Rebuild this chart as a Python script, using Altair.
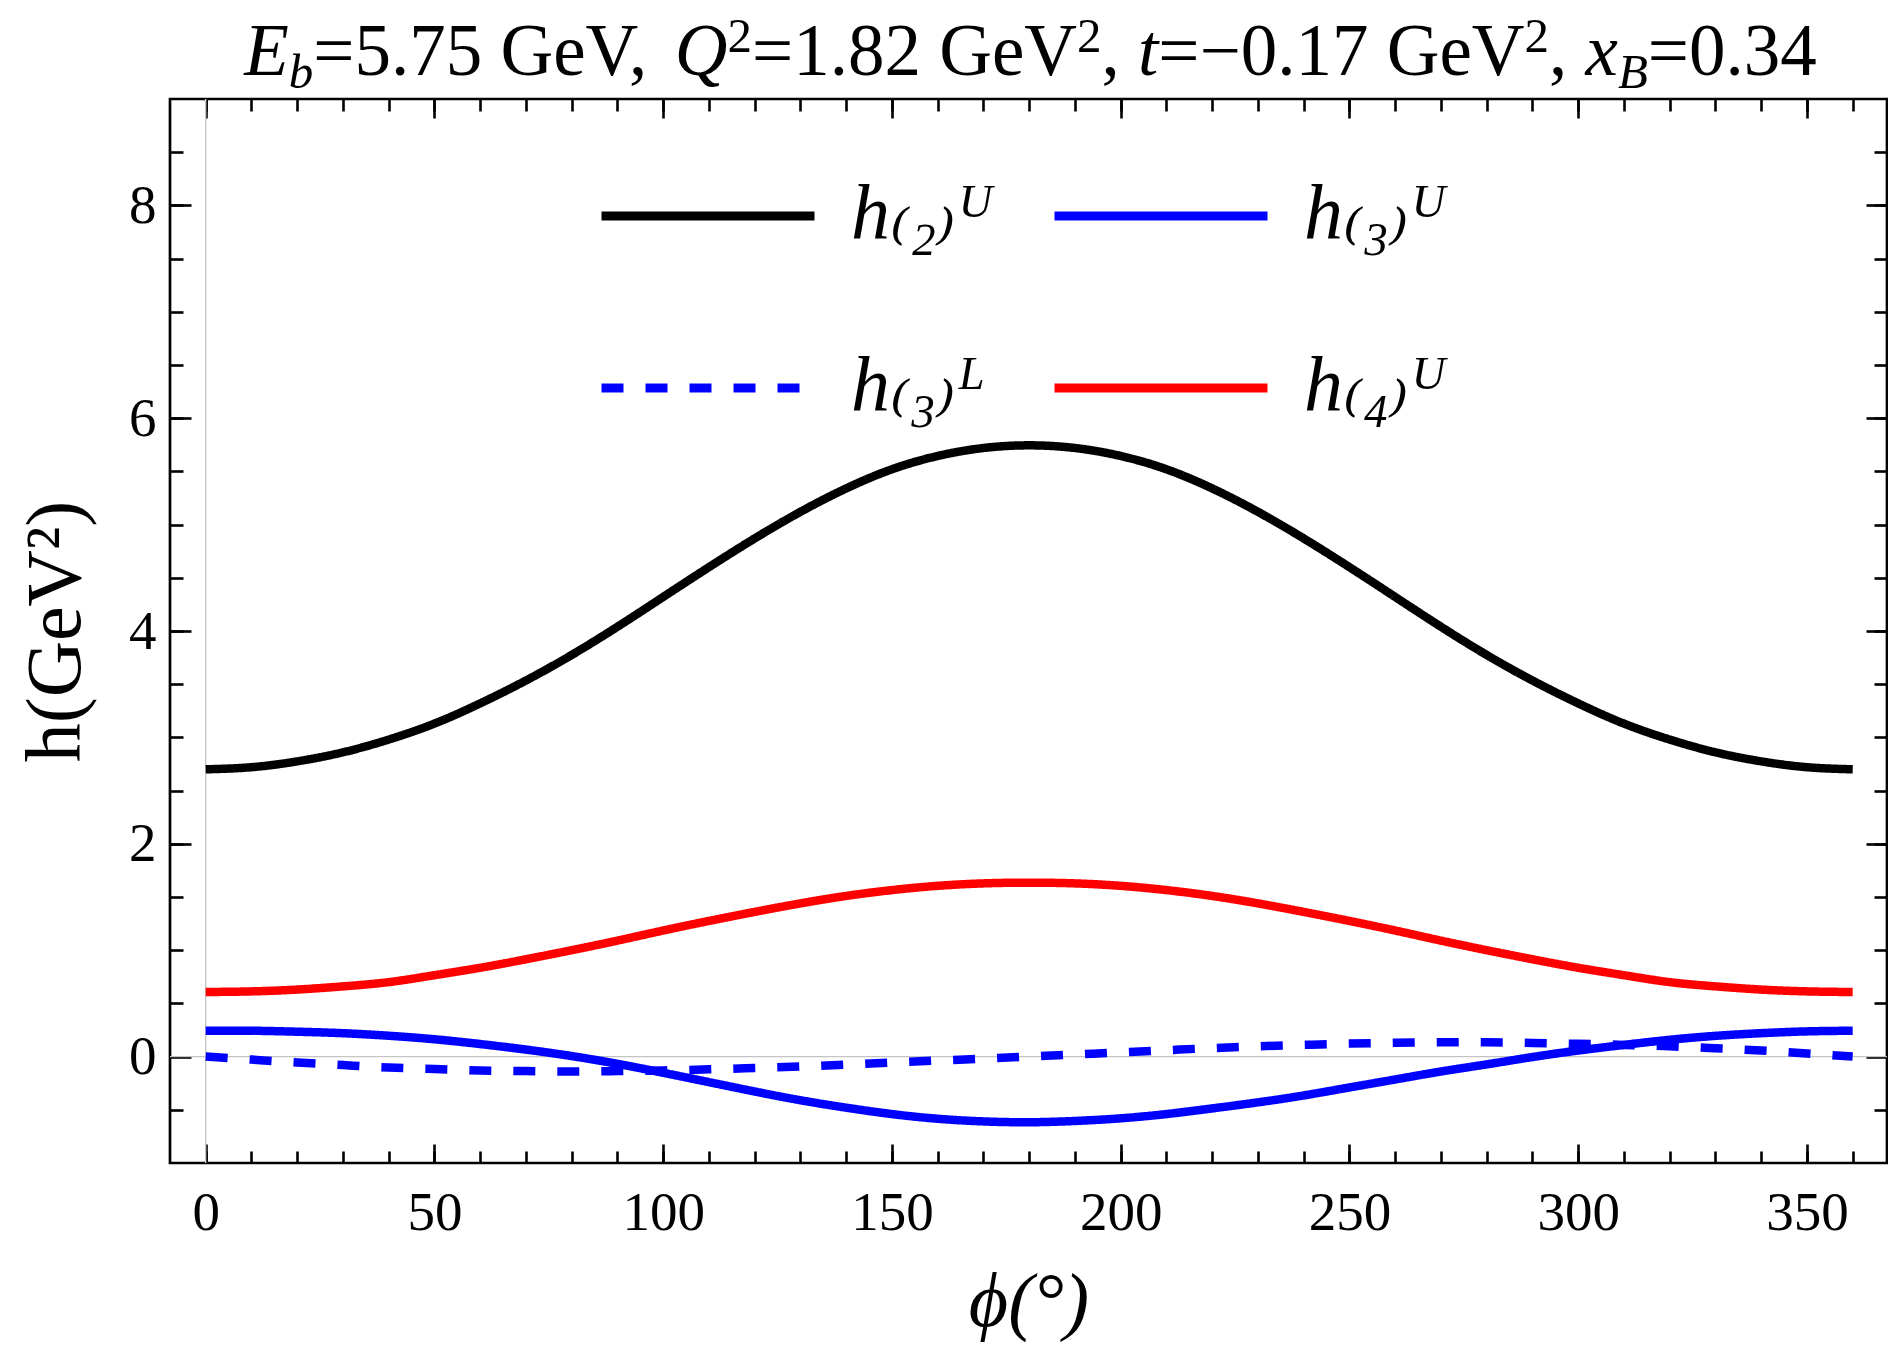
import altair as alt
import pandas as pd

# ---------------- data ----------------
phi = list(range(0, 361, 10))

h2U = [2.70, 2.72, 2.775, 2.86, 2.98, 3.13, 3.32, 3.535, 3.775, 4.04, 4.32, 4.60, 4.87, 5.12, 5.34, 5.52, 5.645, 5.72, 5.745,
       5.72, 5.645, 5.52, 5.34, 5.12, 4.87, 4.60, 4.32, 4.04, 3.775, 3.535, 3.32, 3.13, 2.98, 2.86, 2.775, 2.72, 2.70]
h3U = [0.243, 0.243, 0.234, 0.220, 0.196, 0.163, 0.118, 0.066, 0.005, -0.068, -0.152, -0.240, -0.328, -0.410, -0.480, -0.540, -0.584, -0.609, -0.617,
       -0.605, -0.580, -0.540, -0.487, -0.430, -0.365, -0.290, -0.215, -0.140, -0.073, -0.004, 0.057, 0.110, 0.158, 0.195, 0.220, 0.237, 0.243]
h3L = [0.0, -0.028, -0.056, -0.080, -0.103, -0.117, -0.130, -0.136, -0.140, -0.136, -0.130, -0.120, -0.107, -0.093, -0.075, -0.056, -0.037, -0.019, 0.0,
       0.020, 0.040, 0.060, 0.080, 0.097, 0.110, 0.122, 0.130, 0.134, 0.134, 0.128, 0.120, 0.110, 0.097, 0.078, 0.057, 0.030, 0.0]
h4U = [0.607, 0.613, 0.63, 0.66, 0.70, 0.765, 0.835, 0.915, 1.00, 1.09, 1.185, 1.275, 1.36, 1.44, 1.51, 1.565, 1.605, 1.628, 1.635,
       1.628, 1.605, 1.565, 1.51, 1.44, 1.36, 1.275, 1.185, 1.09, 1.00, 0.915, 0.835, 0.765, 0.70, 0.66, 0.63, 0.613, 0.607]

series_names = ["h\u208d\u2082\u208e\u1d41", "h\u208d\u2083\u208e\u1d41", "h\u208d\u2083\u208e\u1d38", "h\u208d\u2084\u208e\u1d41"]
series_colors = ["#000000", "#0000ff", "#0000ff", "#ff0000"]
series_dash = [[1, 0], [1, 0], [22, 22], [1, 0]]
# legend fills column by column: first column h(2)U, h(3)L; second column h(3)U, h(4)U
legend_order = [series_names[0], series_names[2], series_names[1], series_names[3]]

x_major = [0, 50, 100, 150, 200, 250, 300, 350]
x_minor = list(range(0, 361, 10))
y_major = [0, 2, 4, 6, 8]
y_minor = [-0.5, 0.5, 1, 1.5, 2, 2.5, 3, 3.5, 4, 4.5, 5, 5.5, 6, 6.5, 7, 7.5, 8, 8.5]

x_title = "\u03d5(\u00b0)"
y_title = "h(GeV\u00b2)"

title_parts = ["E", "b", "=5.75 GeV, ", "Q", "2", "=1.82 GeV", "2", ", ", "t", "=\u22120.17 GeV", "2", ", ", "x", "B", "=0.34"]
title_roles = ["var", "sub", "txt", "var", "sup", "txt", "sup", "txt", "var", "txt", "sup", "txt", "var", "sub", "txt"]

# ---------------- build ----------------
df = pd.DataFrame({
    "phi": phi * 4,
    "h": h2U + h3U + h3L + h4U,
    "series": [n for n in series_names for _ in phi],
})

W, H = 1717, 1064
FONT = "'Liberation Serif', 'DejaVu Serif', serif"
TICK_W = 2.6

xs = alt.Scale(domain=[-7.8, 367.5], nice=False, zero=False)
ys = alt.Scale(domain=[-1, 9], nice=False, zero=False)


def make_axis(orient, values, size, labels=False, pad=0, **kw):
    opts = dict(orient=orient, values=values, tickSize=size, offset=-size, tickWidth=TICK_W,
                tickColor="black", domain=False, grid=False, labels=labels)
    if labels:
        opts.update(labelFont=FONT, labelFontSize=55, labelColor="black", labelPadding=pad,
                    labelFlush=False, labelOverlap=False)
    opts.update(kw)
    return alt.Axis(**opts)


legend = alt.Legend(
    orient="none", legendX=427, legendY=67, columns=2, title=None, values=legend_order,
    symbolType="stroke", symbolSize=45369, symbolStrokeWidth=9,
    labelFont=FONT, labelFontSize=78, labelFontStyle="italic", labelColor="black",
    labelOffset=32, labelLimit=600, columnPadding=55, rowPadding=72, clipHeight=100, padding=0,
)

color = alt.Color("series:N", scale=alt.Scale(domain=series_names, range=series_colors), legend=legend)
dash = alt.StrokeDash("series:N", scale=alt.Scale(domain=series_names, range=series_dash), legend=legend)

zero_x = alt.Chart(pd.DataFrame({"x0": [0]})).mark_rule(color="#c4c4c4", strokeWidth=1.4).encode(
    x=alt.X("x0:Q", scale=xs, axis=None))
zero_y = alt.Chart(pd.DataFrame({"y0": [0]})).mark_rule(color="#c4c4c4", strokeWidth=1.4).encode(
    y=alt.Y("y0:Q", scale=ys, axis=None))

lines = alt.Chart(df).mark_line(strokeWidth=8.5, interpolate="natural").encode(
    x=alt.X("phi:Q", scale=xs,
            axis=make_axis("bottom", x_major, 19, labels=True, pad=23, title=x_title,
                           titleFont=FONT, titleFontSize=76, titleFontStyle="italic",
                           titleFontWeight="normal", titleColor="black", titlePadding=25)),
    y=alt.Y("h:Q", scale=ys,
            axis=make_axis("left", y_major, 21, labels=True, pad=14, title=y_title,
                           titleFont=FONT, titleFontSize=78, titleFontWeight="normal",
                           titleColor="black", titlePadding=33)),
    color=color,
    strokeDash=dash,
)


def tick_layer(xo, xv, xsz, yo, yv, ysz):
    return alt.Chart(df).mark_point(opacity=0).encode(
        x=alt.X("phi:Q", scale=xs, axis=make_axis(xo, xv, xsz, title=None)),
        y=alt.Y("h:Q", scale=ys, axis=make_axis(yo, yv, ysz, title=None)),
    )


tick_layers = [
    tick_layer("top", x_major, 19, "right", y_major, 21),
    tick_layer("bottom", x_minor, 12, "left", y_minor, 13),
    tick_layer("top", x_minor, 12, "right", y_minor, 13),
]

# title built from styled pieces (italic variables, sub/superscripts)
S, s = 73, 49
adv_r = {" ": 0.25, ",": 0.25, ".": 0.25, "=": 0.564, "\u2212": 0.564, "G": 0.722, "e": 0.444, "V": 0.722}
adv_i = {"E": 0.611, "Q": 0.722, "t": 0.278, "x": 0.444, "b": 0.5, "B": 0.611}


def piece_width(text, role):
    size = s if role in ("sub", "sup") else S
    table = adv_i if role in ("var", "sub") else adv_r
    return sum(table.get(c, 0.5) for c in text) * size


total = sum(piece_width(t, r) for t, r in zip(title_parts, title_roles))
cursor = W / 2 + 2 - total / 2
base_y = -24
one = pd.DataFrame({"k": [0]})
title_layers = []
for t, r in zip(title_parts, title_roles):
    size = s if r in ("sub", "sup") else S
    style = "italic" if r in ("var", "sub") else "normal"
    dy = 13 if r == "sub" else (-23 if r == "sup" else 0)
    title_layers.append(
        alt.Chart(one).mark_text(text=t, font=FONT, fontSize=size, fontStyle=style, color="black",
                                 align="left", baseline="alphabetic")
        .encode(x=alt.value(cursor), y=alt.value(base_y + dy))
    )
    cursor += piece_width(t, r)

chart = alt.layer(zero_x, zero_y, lines, *tick_layers, *title_layers).resolve_axis(
    x="independent", y="independent"
).properties(
    width=W, height=H,
    autosize=alt.AutoSizeParams(type="none"),
    padding={"left": 162, "top": 91, "right": 1, "bottom": 181},
).configure(
    font=FONT,
    view=alt.ViewConfig(stroke="black", strokeWidth=2.7),
)

chart.save("out.html", embed_options={"renderer": "svg", "actions": False})
